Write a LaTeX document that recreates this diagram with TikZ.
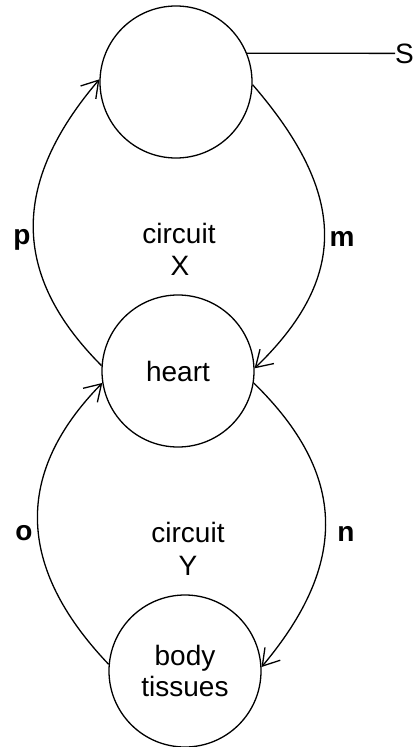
\documentclass[tikz,border=0pt]{standalone}
\usepackage{fontspec}
\setmainfont{Liberation Sans}
\usetikzlibrary{arrows.meta}
\begin{document}
\begin{tikzpicture}[x=1pt,y=-1pt,
  organ/.style={circle,draw,line width=1.3pt,minimum size=152pt,inner sep=0pt,align=center,font=\fontsize{28}{31}\selectfont},
  flow/.style={line width=1.3pt,-{Straight Barb[length=16pt,width=20pt,line width=1.3pt]}},
  lbl/.style={font=\fontsize{28}{31}\selectfont,anchor=base,inner sep=0pt},
  blbl/.style={font=\bfseries\fontsize{28}{31}\selectfont,anchor=base,inner sep=0pt}]
\useasboundingbox (0,0) rectangle (418,747);
\node[organ] (top) at (176,82) {};
\node[organ] (heart) at (178,371) {heart};
\node[organ] (bottom) at (185,671) {body\\tissues};
\node[lbl,anchor=base west] (S) at (395,63) {S};
\draw[line width=1.3pt] (top.22) -- (S.west);
\node[lbl] (cx) at (179,243) {circuit};
\node[lbl] (X) at (180,275) {X};
\node[lbl] (cy) at (188,542) {circuit};
\node[lbl] (Y) at (188,575) {Y};
\node[blbl] (p) at (22,244) {p};
\node[blbl] (m) at (342,246) {m};
\node[blbl] (o) at (24,540) {o};
\node[blbl] (n) at (346,541) {n};
\draw[flow] (heart.176) .. controls (11,275) and (11,183) .. (top.178);
\draw[flow] (top.-2) .. controls (348,195) and (348,278) .. (heart.2);
\draw[flow] (bottom.175) .. controls (15,566) and (15,472) .. (heart.189);
\draw[flow] (heart.-9) .. controls (348,475) and (348,564) .. (bottom.3);
\end{tikzpicture}
\end{document}
